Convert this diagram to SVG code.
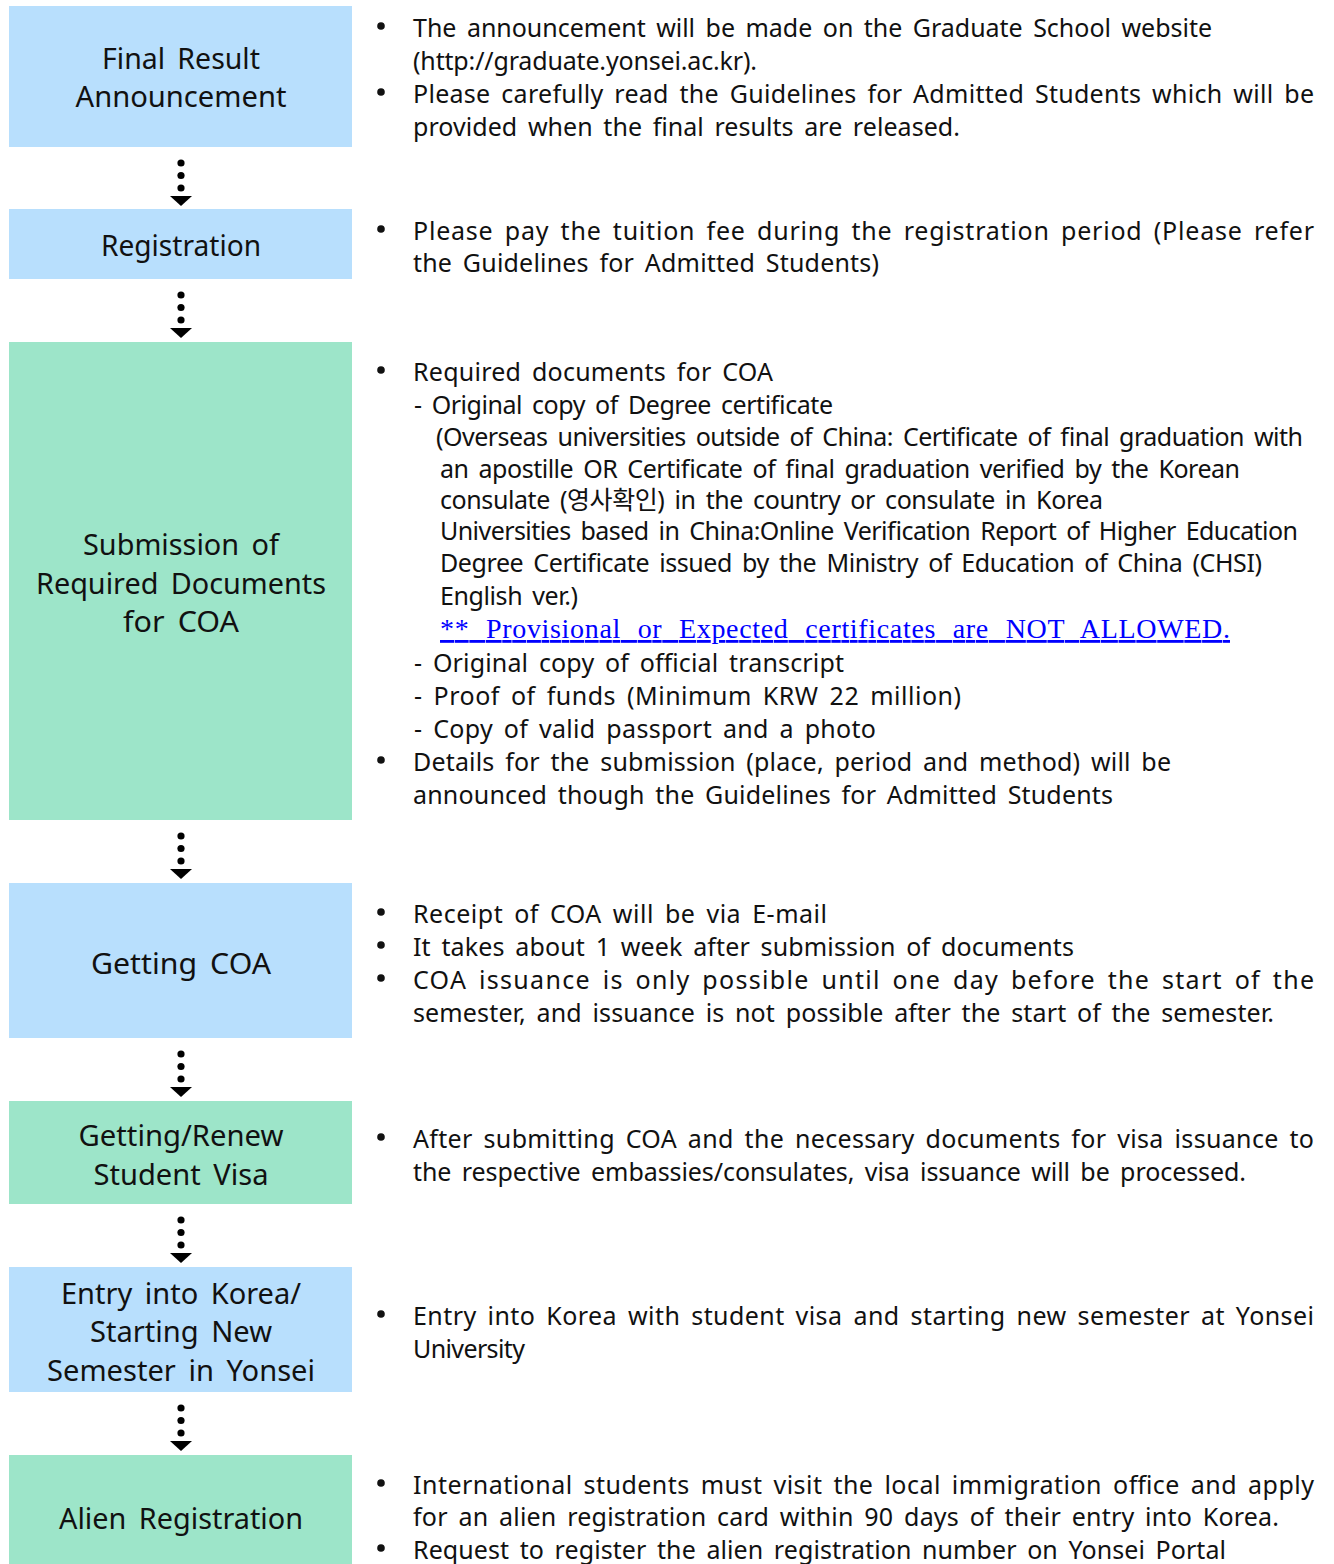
<svg xmlns="http://www.w3.org/2000/svg" width="1334" height="1564" viewBox="0 0 1334 1564">
<style>
.blue{fill:#B8DFFD}
.green{fill:#9DE5C9}
.nt{font-family:"Noto Sans","Noto Sans CJK KR",sans-serif;font-size:29px;fill:#111;text-anchor:middle;word-spacing:5px}
.bt{font-family:"Noto Sans","Noto Sans CJK KR",sans-serif;font-size:25px;fill:#111;word-spacing:4px}
.bl{fill:#111}
.warn{font-family:"Liberation Serif",serif;font-size:28px;fill:#0000FF;text-decoration:underline;word-spacing:9px}
.dot{fill:#000}
</style>
<defs>
<g id="arrow">
<circle cx="0" cy="16" r="3.6"/>
<circle cx="0" cy="28.5" r="3.6"/>
<circle cx="0" cy="41" r="3.6"/>
<polygon points="-11,49 11,49 0,59"/>
</g>
<circle id="b" r="3.8"/>
</defs>

<g id="node-final-result">
<rect class="blue" x="9" y="6" width="343" height="141"/>
<text class="nt" x="181" y="69" textLength="158" lengthAdjust="spacingAndGlyphs">Final Result</text>
<text class="nt" x="181" y="107" textLength="211" lengthAdjust="spacingAndGlyphs">Announcement</text>
</g>
<g id="desc-final-result">
<use href="#b" class="bl" x="381" y="26"/>
<text class="bt" x="413" y="37" textLength="799" lengthAdjust="spacing">The announcement will be made on the Graduate School website</text>
<text class="bt" x="413" y="70" textLength="344" lengthAdjust="spacing">(http://graduate.yonsei.ac.kr).</text>
<use href="#b" class="bl" x="381" y="92"/>
<text class="bt" x="413" y="103" textLength="901" lengthAdjust="spacing">Please carefully read the Guidelines for Admitted Students which will be</text>
<text class="bt" x="413" y="136" textLength="547" lengthAdjust="spacing">provided when the final results are released.</text>
</g>

<g id="node-registration">
<rect class="blue" x="9" y="209" width="343" height="70"/>
<text class="nt" x="181" y="256" textLength="160" lengthAdjust="spacingAndGlyphs">Registration</text>
</g>
<g id="desc-registration">
<use href="#b" class="bl" x="381" y="229"/>
<text class="bt" x="413" y="240" textLength="901" lengthAdjust="spacing">Please pay the tuition fee during the registration period (Please refer</text>
<text class="bt" x="413" y="272" textLength="466" lengthAdjust="spacing">the Guidelines for Admitted Students)</text>
</g>

<g id="node-submission">
<rect class="green" x="9" y="342" width="343" height="478"/>
<text class="nt" x="181" y="555" textLength="196" lengthAdjust="spacingAndGlyphs">Submission of</text>
<text class="nt" x="181" y="594" textLength="290" lengthAdjust="spacingAndGlyphs">Required Documents</text>
<text class="nt" x="181" y="632" textLength="116" lengthAdjust="spacingAndGlyphs">for COA</text>
</g>
<g id="desc-submission">
<use href="#b" class="bl" x="381" y="370"/>
<text class="bt" x="413" y="381" textLength="360" lengthAdjust="spacing">Required documents for COA</text>
<text class="bt" x="414" y="414" textLength="419" lengthAdjust="spacing">- Original copy of Degree certificate</text>
<text class="bt" x="436" y="446" textLength="867" lengthAdjust="spacing">(Overseas universities outside of China: Certificate of final graduation with</text>
<text class="bt" x="440" y="478" textLength="800" lengthAdjust="spacing">an apostille OR Certificate of final graduation verified by the Korean</text>
<text class="bt" x="440" y="509" textLength="663" lengthAdjust="spacing">consulate (영사확인) in the country or consulate in Korea</text>
<text class="bt" x="440" y="540" textLength="858" lengthAdjust="spacing">Universities based in China:Online Verification Report of Higher Education</text>
<text class="bt" x="440" y="572" textLength="822" lengthAdjust="spacing">Degree Certificate issued by the Ministry of Education of China (CHSI)</text>
<text class="bt" x="440" y="605" textLength="138" lengthAdjust="spacing">English ver.)</text>
<text class="warn" x="440" y="638" textLength="790" lengthAdjust="spacing">** Provisional or Expected certificates are NOT ALLOWED.</text>
<text class="bt" x="414" y="672" textLength="430" lengthAdjust="spacing">- Original copy of official transcript</text>
<text class="bt" x="414" y="705" textLength="547" lengthAdjust="spacing">- Proof of funds (Minimum KRW 22 million)</text>
<text class="bt" x="414" y="738" textLength="462" lengthAdjust="spacing">- Copy of valid passport and a photo</text>
<use href="#b" class="bl" x="381" y="760"/>
<text class="bt" x="413" y="771" textLength="758" lengthAdjust="spacing">Details for the submission (place, period and method) will be</text>
<text class="bt" x="413" y="804" textLength="700" lengthAdjust="spacing">announced though the Guidelines for Admitted Students</text>
</g>

<g id="node-getting-coa">
<rect class="blue" x="9" y="883" width="343" height="155"/>
<text class="nt" x="181" y="974" textLength="180" lengthAdjust="spacingAndGlyphs">Getting COA</text>
</g>
<g id="desc-getting-coa">
<use href="#b" class="bl" x="381" y="912"/>
<text class="bt" x="413" y="923" textLength="414" lengthAdjust="spacing">Receipt of COA will be via E-mail</text>
<use href="#b" class="bl" x="381" y="945"/>
<text class="bt" x="413" y="956" textLength="661" lengthAdjust="spacing">It takes about 1 week after submission of documents</text>
<use href="#b" class="bl" x="381" y="978"/>
<text class="bt" x="413" y="989" textLength="901" lengthAdjust="spacing">COA issuance is only possible until one day before the start of the</text>
<text class="bt" x="413" y="1022" textLength="861" lengthAdjust="spacing">semester, and issuance is not possible after the start of the semester.</text>
</g>

<g id="node-visa">
<rect class="green" x="9" y="1101" width="343" height="103"/>
<text class="nt" x="181" y="1146" textLength="205" lengthAdjust="spacingAndGlyphs">Getting/Renew</text>
<text class="nt" x="181" y="1185" textLength="175" lengthAdjust="spacingAndGlyphs">Student Visa</text>
</g>
<g id="desc-visa">
<use href="#b" class="bl" x="381" y="1137"/>
<text class="bt" x="413" y="1148" textLength="901" lengthAdjust="spacing">After submitting COA and the necessary documents for visa issuance to</text>
<text class="bt" x="413" y="1181" textLength="833" lengthAdjust="spacing">the respective embassies/consulates, visa issuance will be processed.</text>
</g>

<g id="node-entry">
<rect class="blue" x="9" y="1267" width="343" height="125"/>
<text class="nt" x="181" y="1304" textLength="240" lengthAdjust="spacingAndGlyphs">Entry into Korea/</text>
<text class="nt" x="181" y="1342" textLength="182" lengthAdjust="spacingAndGlyphs">Starting New</text>
<text class="nt" x="181" y="1381" textLength="268" lengthAdjust="spacingAndGlyphs">Semester in Yonsei</text>
</g>
<g id="desc-entry">
<use href="#b" class="bl" x="381" y="1314"/>
<text class="bt" x="413" y="1325" textLength="901" lengthAdjust="spacing">Entry into Korea with student visa and starting new semester at Yonsei</text>
<text class="bt" x="413" y="1358" textLength="112" lengthAdjust="spacing">University</text>
</g>

<g id="node-alien">
<rect class="green" x="9" y="1455" width="343" height="109"/>
<text class="nt" x="181" y="1529" textLength="244" lengthAdjust="spacingAndGlyphs">Alien Registration</text>
</g>
<g id="desc-alien">
<use href="#b" class="bl" x="381" y="1483"/>
<text class="bt" x="413" y="1494" textLength="901" lengthAdjust="spacing">International students must visit the local immigration office and apply</text>
<text class="bt" x="413" y="1526" textLength="866" lengthAdjust="spacing">for an alien registration card within 90 days of their entry into Korea.</text>
<use href="#b" class="bl" x="381" y="1548"/>
<text class="bt" x="413" y="1559" textLength="813" lengthAdjust="spacing">Request to register the alien registration number on Yonsei Portal</text>
</g>

<g id="connectors" class="dot">
<use href="#arrow" x="181" y="147"/>
<use href="#arrow" x="181" y="279"/>
<use href="#arrow" x="181" y="820"/>
<use href="#arrow" x="181" y="1038"/>
<use href="#arrow" x="181" y="1204"/>
<use href="#arrow" x="181" y="1392"/>
</g>
</svg>
